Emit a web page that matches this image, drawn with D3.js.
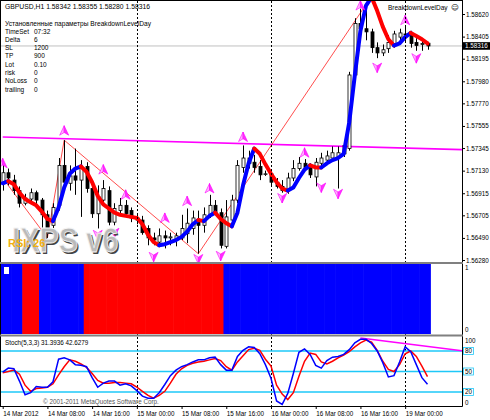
<!DOCTYPE html>
<html><head><meta charset="utf-8">
<script src="https://cdn.jsdelivr.net/npm/d3@7"></script>
<style>
body{margin:0;background:#fff;}
svg{display:block;font-family:"Liberation Sans",Arial,sans-serif;}
</style>
</head><body>
<svg id="c" width="490" height="420"></svg>
<script>
// ---------- DATA ----------
const opens  = [1.5701,1.5711,1.5704,1.5694,1.5682,1.5686,1.5692,1.5685,1.5671,1.5661,1.5680,1.5718,1.5701,1.5708,1.5704,1.5717,1.5696,1.5672,1.5685,1.5694,1.5664,1.5675,1.5680,1.5675,1.5668,1.5666,1.5658,1.5649,1.5645,1.5651,1.5649,1.5647,1.5649,1.5653,1.5658,1.5666,1.5661,1.5671,1.5680,1.5673,1.5641,1.5666,1.5685,1.5716,1.5725,1.5721,1.5717,1.5710,1.5710,1.5702,1.5698,1.5694,1.5706,1.5715,1.5720,1.5716,1.5707,1.5720,1.5723,1.5725,1.5726,1.5729,1.5734,1.5804,1.5853,1.5848,1.5845,1.5830,1.5825,1.5829,1.5834,1.5840,1.5843,1.5842,1.5835,1.5833,1.58342];
const highs  = [1.5721,1.5715,1.5709,1.5698,1.5691,1.5696,1.5694,1.5687,1.5675,1.5682,1.5725,1.5742,1.5718,1.5734,1.5723,1.5721,1.5699,1.5699,1.5704,1.5698,1.5682,1.5687,1.5685,1.5678,1.5671,1.5670,1.5661,1.5654,1.5658,1.5656,1.5654,1.5654,1.5671,1.5677,1.5675,1.5675,1.5678,1.5690,1.5685,1.5677,1.5685,1.5690,1.5723,1.5737,1.5732,1.5728,1.5723,1.5713,1.5713,1.5706,1.5704,1.5711,1.5723,1.5726,1.5724,1.5720,1.5725,1.5730,1.5732,1.5736,1.5736,1.5742,1.5807,1.5858,1.5867,1.5871,1.5848,1.5835,1.5833,1.5842,1.5846,1.5848,1.5850,1.5846,1.5839,1.5837,1.58355];
const lows   = [1.5694,1.5699,1.5690,1.5678,1.5680,1.5682,1.5681,1.5656,1.5649,1.5654,1.5675,1.5694,1.5694,1.5690,1.5669,1.5692,1.5668,1.5658,1.5680,1.5661,1.5661,1.5671,1.5670,1.5664,1.5662,1.5652,1.5642,1.5642,1.5641,1.5639,1.5642,1.5641,1.5647,1.5644,1.5652,1.5634,1.5654,1.5668,1.5671,1.5639,1.5639,1.5661,1.5682,1.5711,1.5715,1.5711,1.5704,1.5708,1.5699,1.5696,1.5692,1.5691,1.5703,1.5713,1.5713,1.5706,1.5698,1.5717,1.5721,1.5723,1.5696,1.5726,1.5732,1.5799,1.5846,1.5837,1.5825,1.5820,1.5822,1.5825,1.5830,1.5837,1.5835,1.5830,1.5827,1.5827,1.58280];
const closes = [1.5711,1.5706,1.5694,1.5682,1.5687,1.5692,1.5685,1.5671,1.5656,1.5678,1.5718,1.5702,1.5708,1.5704,1.5716,1.5696,1.5672,1.5688,1.5696,1.5664,1.5677,1.5680,1.5672,1.5668,1.5666,1.5654,1.5649,1.5647,1.5651,1.5649,1.5650,1.5651,1.5658,1.5663,1.5668,1.5661,1.5671,1.5680,1.5673,1.5642,1.5669,1.5685,1.5718,1.5725,1.5720,1.5716,1.5709,1.5710,1.5702,1.5698,1.5694,1.5706,1.5715,1.5720,1.5716,1.5709,1.5721,1.5725,1.5727,1.5730,1.5730,1.5737,1.5804,1.5853,1.5848,1.5845,1.5830,1.5825,1.5828,1.5835,1.5843,1.5844,1.5842,1.5834,1.5832,1.5834,1.58316];
// thick trend-coloured moving average
const maLine = [1.5701,1.5703,1.5700,1.5692,1.5686,1.5683,1.5680,1.5674,1.5667,1.5665,1.5678,1.5697,1.5710,1.5715,1.5717,1.5712,1.5702,1.5689,1.5681,1.5677,1.5673,1.5671,1.5670,1.5669,1.5668,1.5662,1.5652,1.5645,1.5642,1.5643,1.5645,1.5647,1.5650,1.5655,1.5662,1.5666,1.5665,1.5670,1.5673,1.5667,1.5663,1.5660,1.5673,1.5699,1.5720,1.5734,1.5729,1.5719,1.5710,1.5702,1.5696,1.5694,1.5697,1.5706,1.5714,1.5718,1.5716,1.5716,1.5720,1.5723,1.5725,1.5729,1.5759,1.5804,1.5846,1.5870,1.5878,1.5865,1.5850,1.5838,1.5832,1.5834,1.5840,1.5844,1.5841,1.5838,1.5834];
const zigzagBars   = [0, 8, 11, 35, 65];
const zigzagPrices = [1.5706, 1.5649, 1.5742, 1.5634, 1.5871];
const upArrowBars    = [0, 11, 18, 22, 29, 33, 37, 43, 54, 64, 72];
const upArrowPrices  = [1.5720,1.5751,1.5714,1.5690,1.5668,1.5684,1.5696,1.5745,1.5730,1.5870,1.5856];
const downArrowBars   = [17, 20, 27, 35, 39, 50, 57, 60, 67, 74];
const downArrowPrices = [1.5652,1.5654,1.5631,1.5629,1.5632,1.5687,1.5697,1.5691,1.5811,1.5820];
const trendBars   = [0, 82.4];
const trendPrices = [1.5745, 1.5733];
// histogram sub-window: 1 = blue, -1 = red
const signal = [1,1,1,1,-1,-1,-1,1,1,1,1,1,1,1,1,-1,-1,-1,-1,-1,-1,-1,-1,-1,-1,-1,-1,-1,-1,-1,-1,-1,-1,-1,-1,-1,-1,-1,-1,-1,1,1,1,1,1,1,1,1,1,1,1,1,1,1,1,1,1,1,1,1,1,1,1,1,1,1,1,1,1,1,1,1,1,1,1,1,1];
const stochK = [49,55,54,36,16,19,28,27,27,35,68,70,67,60,59,57,41,27,33,36,36,30,32,29,22,14,11,11,19,31,44,52,57,60,64,67,67,70,71,60,52,52,72,81,86,85,76,60,40,7,2,18,47,78,83,75,59,55,66,71,72,75,82,92,97,97,91,80,63,42,44,64,86,79,60,41,31.3936];
const stochD = [48,50,52,46,30,21,25,26,27,32,45,57,67,65,61,56,47,37,33,33,34,34,33,32,27,21,15,11,15,21,33,46,54,59,62,64,65,67,69,66,57,52,64,73,82,84,81,68,58,30,17,9,19,43,65,77,75,64,61,65,70,74,79,86,92,96,93,81,65,53,50,60,76,80,72,58,42.6279];
const stochTrendBars   = [64, 82.4];
const stochTrendValues = [99, 80];
const priceTicks = [1.58620,1.58405,1.58195,1.57980,1.57770,1.57555,1.57345,1.57130,1.56915,1.56705,1.56490,1.56280];
const lastPrice = 1.58316;
const stochLevels = [80, 50, 20];
const timeTickBars = [0,8,16,24,32,40,48,56,64,72];
const timeTickLabels = ["14 Mar 2012","14 Mar 08:00","14 Mar 16:00","15 Mar 00:00","15 Mar 08:00","15 Mar 16:00","16 Mar 00:00","16 Mar 08:00","16 Mar 16:00","19 Mar 00:00"];
const separatorBars = [24, 48, 72];
const paramNames  = ["TimeSet","Delta","SL","TP","Lot","risk","NoLoss","trailing"];
const paramValues = ["07:32","6","1200","900","0.10","0","0","0"];

// ---------- LAYOUT ----------
const svg = d3.select('#c');
const L = 1, R = 462;
const mainTop = 1, mainBot = 262, indTop = 264, indBot = 334, stTop = 337, stBot = 406;
const x  = d3.scaleLinear().domain([0, 76]).range([2.7, 427.5]);
const step = x(1) - x(0);
const yP = d3.scaleLinear().domain([1.5628, 1.5862]).range([260, 14]);
const yI = d3.scaleLinear().domain([0, 1]).range([indBot, indTop]);
const yS = d3.scaleLinear().domain([0, 100]).range([405.7, 337.3]);
const FS = 6.3;

const defs = svg.append('defs');
[['cm', mainTop, mainBot], ['ci', indTop, indBot], ['cs', stTop, stBot]].forEach(([id, t, b]) => {
  defs.append('clipPath').attr('id', id).append('rect').attr('x', L).attr('y', t).attr('width', R - L).attr('height', b - t);
});

// ---------- MAIN ----------
const gm = svg.append('g').attr('clip-path', 'url(#cm)');
gm.append('line').attr('x1', L).attr('x2', R).attr('y1', yP(lastPrice)).attr('y2', yP(lastPrice)).attr('stroke', '#c0c0c0').attr('stroke-width', 1);
separatorBars.forEach(b => {
  svg.append('line').attr('x1', Math.round(x(b)) + 0.5).attr('x2', Math.round(x(b)) + 0.5).attr('y1', mainTop).attr('y2', stBot)
    .attr('stroke', '#000').attr('stroke-width', 1).attr('stroke-dasharray', '2,2');
});
gm.append('line').attr('x1', x(trendBars[0])).attr('x2', x(trendBars[1])).attr('y1', yP(trendPrices[0])).attr('y2', yP(trendPrices[1]))
  .attr('stroke', '#ff00ff').attr('stroke-width', 1.6);
gm.append('path').datum(zigzagBars.map((b, i) => [b, zigzagPrices[i]]))
  .attr('d', d3.line().x(d => x(d[0])).y(d => yP(d[1])))
  .attr('fill', 'none').attr('stroke', '#ff2020').attr('stroke-width', 0.8);
const cg = gm.append('g');
opens.forEach((o, i) => {
  const c = closes[i], cx = Math.round(x(i)) + 0.5;
  cg.append('line').attr('x1', cx).attr('x2', cx).attr('y1', yP(highs[i])).attr('y2', yP(lows[i])).attr('stroke', '#000').attr('stroke-width', 1);
  const top = yP(Math.max(o, c)), bot = yP(Math.min(o, c));
  cg.append('rect').attr('x', cx - 1.5).attr('y', top).attr('width', 3).attr('height', Math.max(0.8, bot - top))
    .attr('fill', c >= o ? '#fff' : '#000').attr('stroke', '#000').attr('stroke-width', 0.8);
});
const maG = gm.append('g');
let segs = [];
for (let i = 0; i < maLine.length - 1; i++) {
  const col = maLine[i + 1] > maLine[i] ? '#0000ff' : '#ff0000';
  if (segs.length && segs[segs.length - 1].col === col) segs[segs.length - 1].pts.push(i + 1);
  else segs.push({ col, pts: [i, i + 1] });
}
segs.forEach(s => {
  maG.append('path').attr('d', d3.line().x(i => x(i)).y(i => yP(maLine[i]))(s.pts))
    .attr('fill', 'none').attr('stroke', s.col).attr('stroke-width', 4).attr('stroke-linecap', 'round').attr('stroke-linejoin', 'round');
});
function arrow(g, cx, cy, up) {
  const s = up ? 1 : -1;
  const a = g.append('g').attr('transform', `translate(${cx},${cy}) scale(1,${s})`);
  a.append('path').attr('d', 'M0,-5 L-4.5,4.5 L0,1.8 Z').attr('fill', '#ffb4ff').attr('stroke', '#ff00ff').attr('stroke-width', 0.6);
  a.append('path').attr('d', 'M0,-5 L4.5,4.5 L0,1.8 Z').attr('fill', '#ff30ff').attr('stroke', '#ff00ff').attr('stroke-width', 0.6);
}
const ag = gm.append('g');
upArrowBars.forEach((b, i) => arrow(ag, x(b), yP(upArrowPrices[i]), true));
downArrowBars.forEach((b, i) => arrow(ag, x(b), yP(downArrowPrices[i]), false));

// logo + RSI label (overlapping, as in the original)
const lg = svg.append('g').attr('font-weight', 'bold').attr('font-size', 29);
lg.append('text').attr('transform', 'translate(13.6,253.6) scale(1,1.2)').attr('fill', '#444').text('IXPS v6');
lg.append('text').attr('transform', 'translate(12,252) scale(1,1.2)').attr('fill', '#bababa').attr('stroke', '#f6f6f6').attr('stroke-width', 0.7).text('IXPS v6');
svg.append('text').attr('x', 8).attr('y', 246.5).attr('font-size', 11).attr('font-weight', 'bold').attr('fill', '#f0b010').text('RSI: 26');

// header texts
svg.append('text').attr('x', 5).attr('y', 9).attr('font-size', 6.8).attr('fill', '#000')
  .text('GBPUSD,H1  1.58342 1.58355 1.58280 1.58316');
svg.append('text').attr('x', 5).attr('y', 25.5).attr('font-size', 6.5).attr('fill', '#000')
  .attr('textLength', 146).attr('lengthAdjust', 'spacingAndGlyphs').text('Установленные параметры BreakdownLevelDay');
paramNames.forEach((n, i) => {
  svg.append('text').attr('x', 5).attr('y', 33.5 + i * 8.3).attr('font-size', 6.5).attr('fill', '#000').text(n);
  svg.append('text').attr('x', 34).attr('y', 33.5 + i * 8.3).attr('font-size', 6.5).attr('fill', '#000').text(paramValues[i]);
});
svg.append('text').attr('x', 388).attr('y', 9.5).attr('font-size', 6.5).attr('fill', '#000').text('BreakdownLevelDay');
svg.append('text').attr('x', 451).attr('y', 10).attr('font-size', 7.5).attr('fill', '#000').attr('font-family', 'DejaVu Sans').text('☺');

// price axis
const pa = svg.append('g').attr('transform', `translate(${R},0)`)
  .call(d3.axisRight(yP).tickValues(priceTicks).tickFormat(d3.format('.5f')).tickSize(3).tickPadding(1));
pa.select('.domain').remove();
pa.selectAll('text').attr('font-size', FS).attr('font-family', '"Liberation Sans",Arial,sans-serif').attr('fill', '#000');
pa.selectAll('line').attr('stroke', '#000');
svg.append('rect').attr('x', R + 1).attr('y', yP(lastPrice) - 3.8).attr('width', 27).attr('height', 7.6).attr('fill', '#000');
svg.append('text').attr('x', R + 3).attr('y', yP(lastPrice) + 2.2).attr('font-size', FS).attr('fill', '#fff').text(d3.format('.5f')(lastPrice));

// ---------- HISTOGRAM SUB-WINDOW ----------
const gi = svg.append('g').attr('clip-path', 'url(#ci)');
signal.forEach((s, i) => {
  gi.append('rect').attr('x', x(i) - step / 2).attr('y', yI(1)).attr('width', step + 0.6).attr('height', yI(0) - yI(1))
    .attr('fill', s > 0 ? '#0000ff' : '#ff0000');
});
gi.append('rect').attr('x', 4).attr('y', 267).attr('width', 5).attr('height', 7).attr('fill', '#fff');
svg.append('text').attr('x', R + 3).attr('y', yI(1) + 6).attr('font-size', FS).text('1');
svg.append('text').attr('x', R + 3).attr('y', yI(0) - 2).attr('font-size', FS).text('0');

// ---------- STOCHASTIC ----------
const gs = svg.append('g').attr('clip-path', 'url(#cs)');
stochLevels.forEach(v => {
  gs.append('line').attr('x1', L).attr('x2', R).attr('y1', yS(v)).attr('y2', yS(v)).attr('stroke', '#1ec8f8').attr('stroke-width', 1.6);
});
gs.append('line').attr('x1', x(stochTrendBars[0])).attr('x2', x(stochTrendBars[1])).attr('y1', yS(stochTrendValues[0])).attr('y2', yS(stochTrendValues[1]))
  .attr('stroke', '#ff00ff').attr('stroke-width', 1.5);
const sl = d3.line().x((d, i) => x(i)).y(d => yS(d));
gs.append('path').datum(stochD).attr('d', sl).attr('fill', 'none').attr('stroke', '#ff0000').attr('stroke-width', 1.5);
gs.append('path').datum(stochK).attr('d', sl).attr('fill', 'none').attr('stroke', '#0000ff').attr('stroke-width', 1.5);
svg.append('text').attr('x', 5).attr('y', 345).attr('font-size', FS).text('Stoch(5,3,3) 31.3936 42.6279');
svg.append('text').attr('x', 43.5).attr('y', 404.5).attr('font-size', FS).attr('fill', '#fff').text('© 2001-2011 MetaQuotes Software Corp.');
svg.append('text').attr('x', 43).attr('y', 404).attr('font-size', FS).attr('fill', '#555').text('© 2001-2011 MetaQuotes Software Corp.');
[[100, 3.8], [0, -2.8]].forEach(([v, off]) => {
  svg.append('text').attr('x', R + 3).attr('y', yS(v) + off + 2).attr('font-size', FS).text(v);
});
stochLevels.forEach(v => {
  svg.append('rect').attr('x', R + 1.5).attr('y', yS(v) - 3.5).attr('width', 10).attr('height', 7).attr('fill', '#fff').attr('stroke', '#1ec8f8').attr('stroke-width', 0.8);
  svg.append('text').attr('x', R + 3).attr('y', yS(v) + 2.2).attr('font-size', FS).text(v);
});

// ---------- TIME AXIS ----------
const ta = svg.append('g').attr('transform', `translate(0,${stBot})`)
  .call(d3.axisBottom(x).tickValues(timeTickBars).tickFormat((d, i) => timeTickLabels[i]).tickSize(3).tickPadding(3));
ta.select('.domain').remove();
ta.selectAll('text').attr('text-anchor', 'start').attr('dx', 0).attr('font-size', FS).attr('font-family', '"Liberation Sans",Arial,sans-serif').attr('fill', '#000');
ta.selectAll('line').attr('stroke', '#000');

// ---------- FRAMES ----------
const fr = svg.append('g').attr('fill', 'none');
fr.append('line').attr('x1', 0.5).attr('x2', 0.5).attr('y1', 0).attr('y2', stBot + 0.5).attr('stroke', '#000');
fr.append('line').attr('x1', 0).attr('x2', R + 0.5).attr('y1', 0.5).attr('y2', 0.5).attr('stroke', '#000');
fr.append('line').attr('x1', R + 0.5).attr('x2', R + 0.5).attr('y1', 0).attr('y2', stBot + 0.5).attr('stroke', '#000');
fr.append('line').attr('x1', 0).attr('x2', R + 0.5).attr('y1', stBot + 0.5).attr('y2', stBot + 0.5).attr('stroke', '#000');
[mainBot + 1, indBot + 1.5].forEach(yy => {
  fr.append('rect').attr('x', 0).attr('y', yy - 1).attr('width', R + 1).attr('height', 2).attr('fill', '#808080');
});
</script>
</body></html>
